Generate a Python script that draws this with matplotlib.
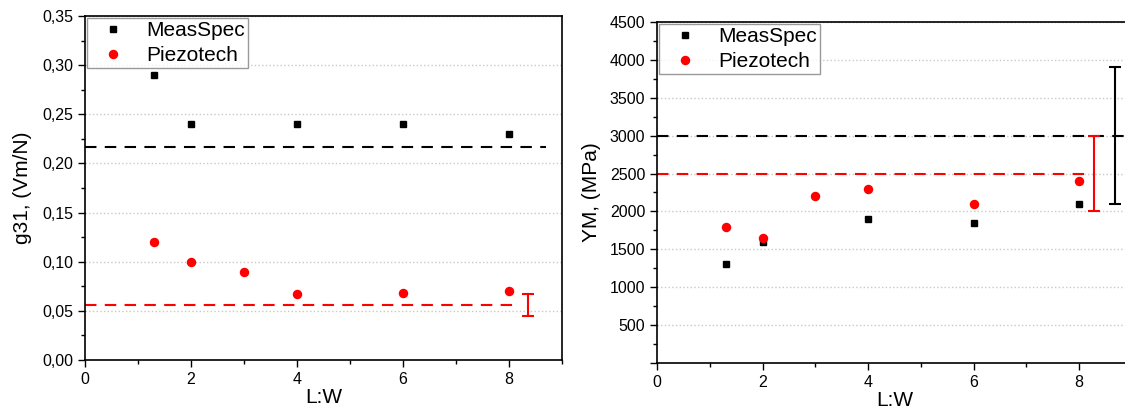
import numpy as np
import matplotlib.pyplot as plt
from matplotlib.ticker import MultipleLocator, FuncFormatter

plt.rcParams['font.family'] = ['Liberation Sans', 'DejaVu Sans']

# g31 data
g31_meas_x = [1.3, 2, 4, 6, 8]
g31_meas_y = [0.29, 0.24, 0.24, 0.24, 0.23]
g31_piezo_x = [1.3, 2, 3, 4, 6, 8]
g31_piezo_y = [0.12, 0.10, 0.09, 0.067, 0.068, 0.07]
g31_meas_ref = 0.2165
g31_piezo_ref = 0.056
g31_piezo_err = 0.011

# Young's modulus data
ym_meas_x = [1.3, 2, 4, 6, 8]
ym_meas_y = [1300, 1600, 1900, 1850, 2100]
ym_piezo_x = [1.3, 2, 3, 4, 6, 8]
ym_piezo_y = [1800, 1650, 2200, 2300, 2100, 2400]
ym_meas_ref = 3000
ym_meas_err = 900
ym_piezo_ref = 2500
ym_piezo_err = 500

RED = '#ff0000'

fig = plt.figure(figsize=(11.25, 4.11), dpi=100)
ax1 = fig.add_axes([85 / 1125, 1 - 360 / 411, 477 / 1125, 344 / 411])
ax2 = fig.add_axes([657 / 1125, 1 - 363 / 411, 474.75 / 1125, 341 / 411])


def style_axes(ax):
    ax.set_xlim(0, 9)
    ax.xaxis.set_major_locator(MultipleLocator(2))
    ax.xaxis.set_minor_locator(MultipleLocator(1))
    ax.tick_params(which='both', direction='out', top=False, right=False,
                   labelsize=11.5, width=1)
    ax.tick_params(which='major', length=5)
    ax.tick_params(which='minor', length=3)
    for s in ax.spines.values():
        s.set_linewidth(1.2)
    ax.grid(axis='y', which='major', color='#c8c8c8', linestyle=':', linewidth=1)
    ax.set_axisbelow(True)
    ax.set_xlabel('L:W', fontsize=15, labelpad=1)


# left plot
ax1.plot(g31_meas_x, g31_meas_y, 's', color='black', markersize=5, label='MeasSpec')
ax1.plot(g31_piezo_x, g31_piezo_y, 'o', color=RED, markersize=5.8, label='Piezotech')
ax1.plot([0, 8.7], [g31_meas_ref] * 2, '--', color='black', linewidth=1.5, dashes=(5.5, 4))
ax1.plot([0, 8.2], [g31_piezo_ref] * 2, '--', color=RED, linewidth=1.5, dashes=(5.5, 4))
ax1.errorbar([8.35], [g31_piezo_ref], yerr=[g31_piezo_err], color=RED,
             capsize=4, elinewidth=1.5, capthick=1.5, fmt='none')
style_axes(ax1)
ax1.set_ylim(0, 0.35)
ax1.yaxis.set_major_locator(MultipleLocator(0.05))
ax1.yaxis.set_minor_locator(MultipleLocator(0.025))
ax1.yaxis.set_major_formatter(FuncFormatter(lambda v, p: f'{v:.2f}'.replace('.', ',')))
ax1.set_ylabel('g31, (Vm/N)', fontsize=15, labelpad=7)

# right plot
ax2.plot(ym_meas_x, ym_meas_y, 's', color='black', markersize=5, label='MeasSpec')
ax2.plot(ym_piezo_x, ym_piezo_y, 'o', color=RED, markersize=5.8, label='Piezotech')
ax2.plot([0, 9], [ym_meas_ref] * 2, '--', color='black', linewidth=1.5, dashes=(5.5, 4))
ax2.plot([0, 8.1], [ym_piezo_ref] * 2, '--', color=RED, linewidth=1.5, dashes=(5.5, 4))
ax2.errorbar([8.29], [ym_piezo_ref], yerr=[ym_piezo_err], color=RED,
             capsize=4, elinewidth=1.5, capthick=1.5, fmt='none')
ax2.errorbar([8.69], [ym_meas_ref], yerr=[ym_meas_err], color='black',
             capsize=4, elinewidth=1.5, capthick=1.5, fmt='none')
style_axes(ax2)
ax2.set_ylim(0, 4500)
ax2.yaxis.set_major_locator(MultipleLocator(500))
ax2.yaxis.set_minor_locator(MultipleLocator(250))
ax2.yaxis.set_major_formatter(FuncFormatter(lambda v, p: '' if v == 0 else f'{v:.0f}'))
ax2.set_ylabel('YM, (MPa)', fontsize=15, labelpad=6)

for ax in (ax1, ax2):
    leg = ax.legend(loc='upper left', fontsize=15, frameon=True, fancybox=False,
                    borderaxespad=0.1, handletextpad=0.5, borderpad=0.15,
                    labelspacing=0.28, handlelength=2.2)
    leg.get_frame().set_edgecolor('#808080')
    leg.get_frame().set_linewidth(1)

fig.savefig('out.png', dpi=100)
